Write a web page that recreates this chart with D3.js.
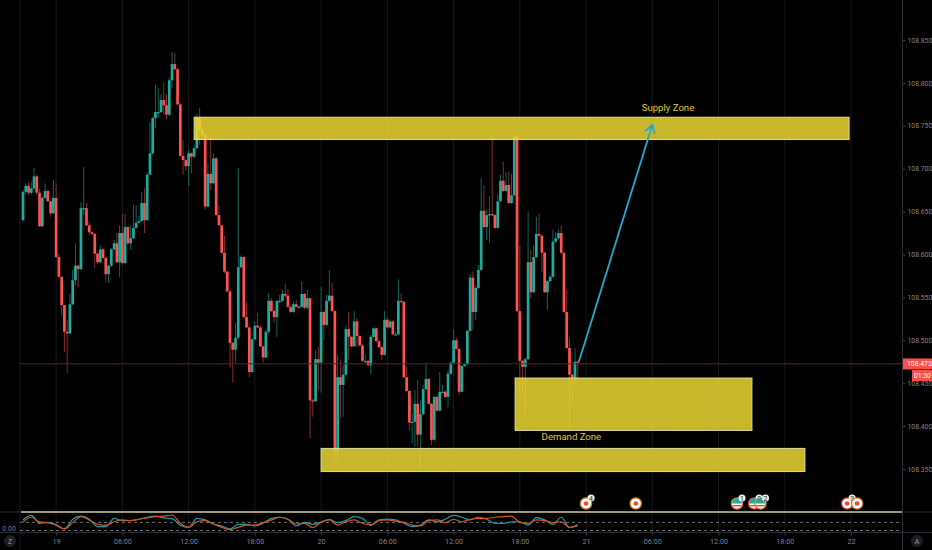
<!DOCTYPE html>
<html><head><meta charset="utf-8">
<script src="https://cdnjs.cloudflare.com/ajax/libs/d3/7.8.5/d3.min.js"></script>
<style>html,body{margin:0;padding:0;background:#000;overflow:hidden}svg{display:block}text{font-family:Roboto,sans-serif}</style>
</head><body><div id="c"></div>
<script>
// Prices are thousandths above 108 (673 = 108.673). Bars are 15 minutes each.
const priceBase = 108;
const firstOpen = 640;
const closes = [673,680,672,677,691,672,633,666,674,662,648,666,597,574,541,510,508,542,570,587,583,654,654,634,626,624,601,591,606,596,577,587,606,613,591,625,590,632,613,619,631,637,639,660,640,693,718,759,766,766,780,774,763,803,822,816,775,715,710,703,718,714,724,759,745,739,656,694,683,712,646,634,602,580,557,497,489,503,585,597,527,515,463,501,517,515,493,480,510,546,534,527,546,546,554,552,539,533,542,539,539,554,538,549,430,429,478,474,533,518,546,552,534,372,457,448,460,513,504,493,522,505,494,476,476,471,504,514,499,492,483,524,515,522,507,507,546,545,457,441,404,405,426,390,414,443,455,426,384,434,418,440,440,434,461,474,500,490,440,470,472,511,573,533,561,582,651,632,646,647,646,631,662,686,674,681,660,669,737,534,476,469,478,591,556,597,624,622,602,556,569,574,615,619,625,602,533,491,460,456,475,474];
const highs = [675,683,684,684,701,693,677,668,683,676,663,687,683,601,574,541,524,554,582,613,588,661,702,660,638,627,625,602,611,608,597,588,608,617,625,634,648,647,633,634,658,658,645,673,677,696,754,761,798,794,786,800,787,806,836,835,817,777,733,712,722,719,728,764,771,751,741,707,742,718,714,658,634,622,581,559,498,520,701,599,598,545,517,503,522,532,517,494,512,555,549,535,547,553,559,566,559,540,545,547,541,569,555,559,550,432,489,492,562,534,553,582,567,535,483,477,471,518,533,505,534,526,506,496,483,477,506,515,515,500,493,534,527,524,524,510,571,555,546,469,442,415,442,454,430,448,472,456,427,435,435,463,448,442,465,475,513,503,490,471,474,512,577,580,564,588,689,681,652,668,739,647,670,693,708,696,696,694,739,738,610,477,480,650,605,611,644,648,622,603,570,576,629,626,629,634,603,559,503,461,491,476];
const lows = [638,670,669,670,676,669,632,632,665,661,644,647,596,573,529,486,462,507,541,564,562,582,646,633,622,623,584,589,590,595,567,567,585,605,590,574,588,589,611,606,618,630,636,638,625,639,701,716,747,759,765,763,758,761,794,815,774,714,693,698,680,695,712,723,728,738,652,655,675,682,645,633,601,578,556,469,451,474,501,584,526,514,457,462,500,514,492,474,479,508,533,520,504,543,545,550,538,532,532,538,538,538,536,536,386,411,428,442,439,500,517,545,533,360,358,409,411,458,477,492,492,492,493,475,474,470,460,503,498,491,477,482,514,514,506,506,506,543,456,440,395,380,376,376,349,413,442,425,378,382,417,417,439,433,422,460,472,489,436,439,469,471,510,512,524,560,581,631,617,613,645,630,630,661,673,673,659,659,668,533,439,439,413,477,549,555,596,620,580,555,535,568,573,613,617,601,532,490,398,427,447,451];

const priceTicks = [108.85,108.80,108.75,108.70,108.65,108.60,108.55,108.50,108.45,108.40,108.35];
const timeTickBars = [12,36,60,84,108,132,156,180,204,228,252,276,300];
const timeTickLabels = ["19","06:00","12:00","18:00","20","06:00","12:00","18:00","21","06:00","12:00","18:00","22"];
const currentPrice = 108.473;
const countdown = "01:30";

const zoneNames = ["supply","demand","lower"];
const zoneBarStart = [62,178.3,108];
const zoneBarEnd = [299.3,264.1,283.3];
const zoneTop = [108.760,108.456,108.374];
const zoneBottom = [108.734,108.395,108.347];
const noteTexts = ["Supply Zone","Demand Zone"];
const noteBars = [233.7,198.7];
const notePrices = [108.771,108.388];
const arrowBars = [201.4,228];
const arrowPrices = [108.475,108.751];

// Oscillator sampled every third bar
const oscStep = 3;
const oscK = [47,67,32,36,26,7,50,64,50,17,17,54,44,44,50,59,64,56,53,24,14,54,47,29,20,7,27,27,20,32,54,59,50,20,36,27,38,50,35,44,62,54,24,47,51,47,32,17,24,47,38,50,67,59,47,59,50,32,32,38,39,24,57,47,27,59,13,26];
const oscD = [38,59,38,35,23,7,35,62,47,27,23,39,47,44,50,56,62,64,69,32,14,39,44,29,14,4,14,24,24,35,47,59,50,29,32,13,36,47,24,39,47,32,24,44,47,42,36,24,20,44,47,35,50,39,50,54,54,59,62,64,36,32,47,44,35,39,14,20];
const oscBands = [0,36];

const eventBars = [204,222,258.7,264.9,267.2,298.6,302.2];
const eventKinds = ["jp","jp","us","us2","us3","jp2","jp"];
const eventBadges = ["4","","1","3","2","3",""];

const W=932,H=550;
const svg=d3.select("#c").append("svg").attr("width",W).attr("height",H);
svg.append("rect").attr("width",W).attr("height",H).attr("fill","#000");

const x=d3.scaleLinear().domain([0,300]).range([23,851]);
const y=d3.scaleLinear().domain([108.35,108.85]).range([469,40]);
const oy=d3.scaleLinear().domain([0,80]).range([530.5,512.5]);
const price=m=>priceBase+m/1000;
const opens=closes.map((c,i)=>i?closes[i-1]:firstOpen);

// vertical grid
svg.append("g").selectAll("line").data(timeTickBars).join("line")
 .attr("x1",d=>x(d)).attr("x2",d=>x(d)).attr("y1",0).attr("y2",532)
 .attr("stroke","#15171d").attr("stroke-width",1);
svg.append("line").attr("x1",20).attr("x2",20).attr("y1",0).attr("y2",550).attr("stroke","#1a1c22");

// candles
const UP="#22ab9d",DOWN="#ff5350",UPW="#11655d",DOWNW="#842d2c";
const bars=closes.map((c,i)=>({i,o:opens[i],c,h:highs[i],l:lows[i]}));
const g=svg.append("g");
g.selectAll("line.w").data(bars).join("line").attr("class","w")
 .attr("x1",d=>x(d.i)).attr("x2",d=>x(d.i))
 .attr("y1",d=>y(price(d.h))).attr("y2",d=>y(price(d.l)))
 .attr("stroke",d=>d.c>=d.o?UPW:DOWNW).attr("stroke-width",1);
g.selectAll("rect").data(bars).join("rect")
 .attr("x",d=>x(d.i)-1.35).attr("width",2.7)
 .attr("y",d=>y(price(Math.max(d.o,d.c))))
 .attr("height",d=>Math.max(1.2,Math.abs(y(price(d.o))-y(price(d.c)))))
 .attr("fill",d=>d.c>=d.o?UP:DOWN);

// last price line
svg.append("line").attr("x1",20).attr("x2",902).attr("y1",y(currentPrice)+.3).attr("y2",y(currentPrice)+.3)
 .attr("stroke","#5e2322").attr("stroke-width",1);

// zones
const zones=zoneNames.map((n,i)=>({n,a:zoneBarStart[i],b:zoneBarEnd[i],t:zoneTop[i],u:zoneBottom[i]}));
svg.append("g").selectAll("rect").data(zones).join("rect")
 .attr("x",d=>x(d.a)).attr("width",d=>x(d.b)-x(d.a))
 .attr("y",d=>y(d.t)).attr("height",d=>y(d.u)-y(d.t))
 .attr("fill","rgba(240,220,52,.83)").attr("stroke","#e2dc9a").attr("stroke-width",1);

// arrow
const defs=svg.append("defs");
defs.append("marker").attr("id","ah").attr("viewBox","0 0 12 12").attr("refX",10).attr("refY",6)
 .attr("markerWidth",12).attr("markerHeight",12).attr("markerUnits","userSpaceOnUse").attr("orient","auto")
 .append("path").attr("d","M2,1 L10,6 L2,11").attr("fill","none").attr("stroke","#20acd0").attr("stroke-width",1.9);
svg.append("line").attr("x1",x(arrowBars[0])).attr("y1",y(arrowPrices[0])).attr("x2",x(arrowBars[1])).attr("y2",y(arrowPrices[1]))
 .attr("stroke","#20acd0").attr("stroke-width",1.8).attr("marker-end","url(#ah)");

// notes
svg.append("g").selectAll("text").data(noteTexts).join("text")
 .attr("x",(d,i)=>x(noteBars[i])).attr("y",(d,i)=>y(notePrices[i])).attr("dy","0.35em")
 .attr("text-anchor","middle").attr("font-size",9.6).attr("fill","#e0c93a").text(d=>d);

// oscillator panel
svg.append("line").attr("x1",0).attr("x2",20).attr("y1",512).attr("y2",512).attr("stroke","#2a2d35");
svg.append("line").attr("x1",902).attr("x2",932).attr("y1",512).attr("y2",512).attr("stroke","#2a2d35");
svg.append("line").attr("x1",21).attr("x2",902).attr("y1",512).attr("y2",512).attr("stroke","#9a9579").attr("stroke-width",2);
svg.append("g").selectAll("line").data(oscBands).join("line")
 .attr("x1",20).attr("x2",902).attr("y1",d=>oy(d)).attr("y2",d=>oy(d))
 .attr("stroke","#8d8d8d").attr("stroke-width",.8).attr("stroke-dasharray","3 3");
const ol=d3.line().x((d,i)=>x(i*oscStep)).y(d=>oy(d)).curve(d3.curveMonotoneX);
svg.append("path").datum(oscK).attr("d",ol).attr("fill","none").attr("stroke","#1f9aac").attr("stroke-width",1.2);
svg.append("path").datum(oscD).attr("d",ol).attr("fill","none").attr("stroke","#d9531e").attr("stroke-width",1.2);
svg.append("text").attr("x",16).attr("y",oy(0)+.5).attr("text-anchor","end").attr("font-size",7).attr("fill","#787b86").text("0.00");
svg.append("line").attr("x1",0).attr("x2",932).attr("y1",532.5).attr("y2",532.5).attr("stroke","#2a2d35");

// events
const ev=svg.append("g").selectAll("g").data(eventBars.map((b,i)=>({b,k:eventKinds[i],t:eventBadges[i]}))).join("g")
 .attr("transform",d=>`translate(${x(d.b)},503.5)`);
ev.append("circle").attr("r",5.6).attr("fill","#fff")
 .attr("stroke",d=>(d.k==="us2"||d.k==="jp2")?"#e0392e":"#d9822b").attr("stroke-width",1.3);
ev.filter(d=>d.k.startsWith("jp")).append("circle").attr("r",2.3).attr("fill","#f0443c");
const us=ev.filter(d=>d.k.startsWith("us"));
us.append("path").attr("d","M-4.6,-2.4 A5,5 0 0 1 4.6,-2.4 L4.9,0 L-4.9,0 Z").attr("fill","#2aa894");
us.append("rect").attr("x",-4.4).attr("y",1.5).attr("width",8.8).attr("height",1.4).attr("fill","#ef4b43");
ev.filter(d=>d.t).append("circle").attr("cx",5).attr("cy",-5.5).attr("r",3.6).attr("fill","#f1ede0");
ev.filter(d=>d.t).append("text").attr("x",5).attr("y",-3).attr("text-anchor","middle").attr("font-size",7).attr("fill","#222").text(d=>d.t);

// price axis
const pa=d3.axisRight(y).tickValues(priceTicks).tickFormat(d3.format(".3f")).tickSize(3).tickPadding(2);
const pg=svg.append("g").attr("transform","translate(902.5,0)").call(pa);
pg.select(".domain").remove();
pg.selectAll("line").attr("stroke","#3a3d46");
pg.selectAll("text").attr("font-size",6.8).attr("fill","#80838e");
svg.append("line").attr("x1",902.5).attr("x2",902.5).attr("y1",0).attr("y2",550).attr("stroke","#2a2d35");

// time axis
const ta=d3.axisBottom(x).tickValues(timeTickBars).tickFormat((d,i)=>timeTickLabels[i]).tickSize(3).tickPadding(3);
const tg=svg.append("g").attr("transform","translate(0,532.5)").call(ta);
tg.select(".domain").remove();
tg.selectAll("line").attr("stroke","#3a3d46");
tg.selectAll("text").attr("font-size",7.2).attr("fill","#80838e");

// last price labels
svg.append("rect").attr("x",903).attr("y",y(currentPrice)-5).attr("width",29).attr("height",11).attr("fill","#f4504c");
svg.append("text").attr("x",907).attr("y",y(currentPrice)+3).attr("font-size",6.8).attr("fill","#fff").text(d3.format(".3f")(currentPrice));
svg.append("rect").attr("x",912).attr("y",370).attr("width",20).attr("height",11).attr("fill","#f4504c");
svg.append("text").attr("x",914).attr("y",378).attr("font-size",6.8).attr("fill","#fff").text(countdown);

// corner buttons
svg.append("circle").attr("cx",10).attr("cy",541).attr("r",6).attr("fill","#1d1f24");
svg.append("text").attr("x",10).attr("y",543.5).attr("text-anchor","middle").attr("font-size",7).attr("fill","#9a9ca3").text("Z");
svg.append("circle").attr("cx",917).attr("cy",541).attr("r",6).attr("fill","#1d1f24");
svg.append("text").attr("x",917).attr("y",543.5).attr("text-anchor","middle").attr("font-size",7).attr("fill","#9a9ca3").text("A");
</script></body></html>
